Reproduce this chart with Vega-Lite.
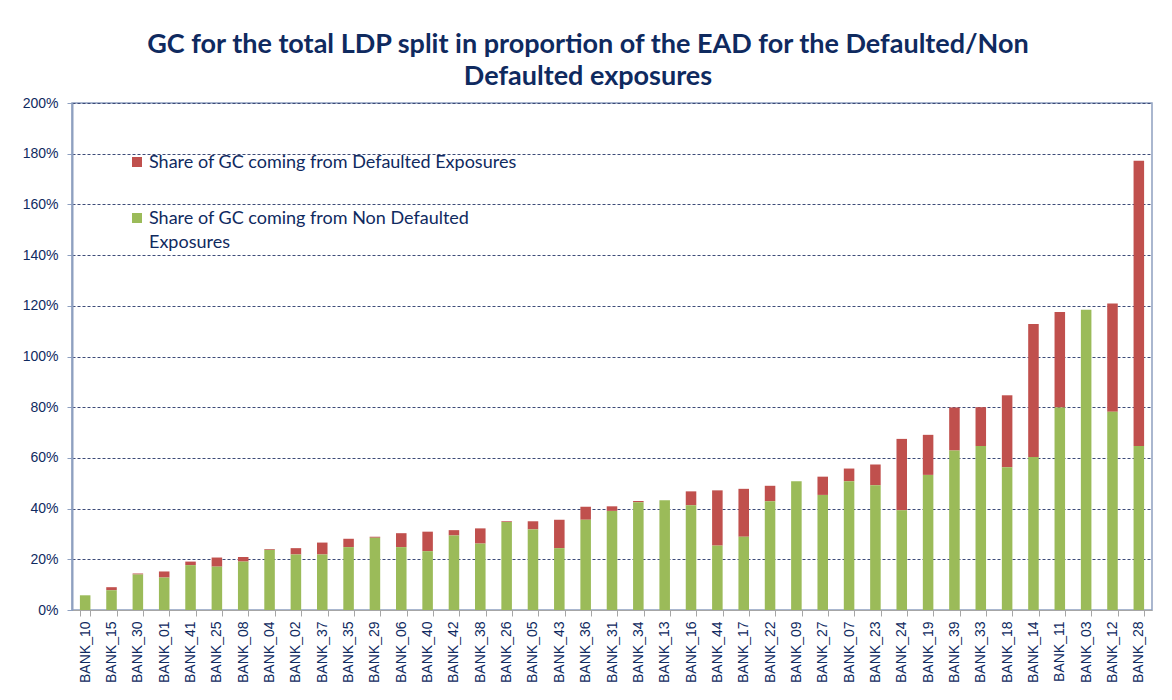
{
  "$schema": "https://vega.github.io/schema/vega-lite/v6.json",
  "width": 1080,
  "height": 507,
  "autosize": {"type": "none"},
  "padding": {"left": 72, "top": 103, "right": 20, "bottom": 90},
  "background": "white",
  "title": {
    "text": ["GC for the total LDP split in proportion of the EAD for the Defaulted/Non", "Defaulted exposures"],
    "anchor": "middle",
    "dx": -24,
    "offset": 5,
    "font": "Lato",
    "fontSize": 27,
    "fontWeight": "bold",
    "color": "#0F2A5F",
    "lineHeight": 32
  },
  "data": {
    "values": [
      {"bank": "BANK_10", "Non Defaulted": 0.058, "Defaulted": 0.0},
      {"bank": "BANK_15", "Non Defaulted": 0.078, "Defaulted": 0.012},
      {"bank": "BANK_30", "Non Defaulted": 0.140, "Defaulted": 0.004},
      {"bank": "BANK_01", "Non Defaulted": 0.128, "Defaulted": 0.024},
      {"bank": "BANK_41", "Non Defaulted": 0.177, "Defaulted": 0.014},
      {"bank": "BANK_25", "Non Defaulted": 0.171, "Defaulted": 0.036},
      {"bank": "BANK_08", "Non Defaulted": 0.191, "Defaulted": 0.018},
      {"bank": "BANK_04", "Non Defaulted": 0.237, "Defaulted": 0.003},
      {"bank": "BANK_02", "Non Defaulted": 0.219, "Defaulted": 0.025},
      {"bank": "BANK_37", "Non Defaulted": 0.219, "Defaulted": 0.047},
      {"bank": "BANK_35", "Non Defaulted": 0.248, "Defaulted": 0.033},
      {"bank": "BANK_29", "Non Defaulted": 0.285, "Defaulted": 0.004},
      {"bank": "BANK_06", "Non Defaulted": 0.248, "Defaulted": 0.055},
      {"bank": "BANK_40", "Non Defaulted": 0.232, "Defaulted": 0.077},
      {"bank": "BANK_42", "Non Defaulted": 0.294, "Defaulted": 0.021},
      {"bank": "BANK_38", "Non Defaulted": 0.262, "Defaulted": 0.060},
      {"bank": "BANK_26", "Non Defaulted": 0.347, "Defaulted": 0.003},
      {"bank": "BANK_05", "Non Defaulted": 0.318, "Defaulted": 0.032},
      {"bank": "BANK_43", "Non Defaulted": 0.244, "Defaulted": 0.112},
      {"bank": "BANK_36", "Non Defaulted": 0.356, "Defaulted": 0.051},
      {"bank": "BANK_31", "Non Defaulted": 0.391, "Defaulted": 0.018},
      {"bank": "BANK_34", "Non Defaulted": 0.425, "Defaulted": 0.005},
      {"bank": "BANK_13", "Non Defaulted": 0.433, "Defaulted": 0.0},
      {"bank": "BANK_16", "Non Defaulted": 0.413, "Defaulted": 0.055},
      {"bank": "BANK_44", "Non Defaulted": 0.254, "Defaulted": 0.218},
      {"bank": "BANK_17", "Non Defaulted": 0.289, "Defaulted": 0.189},
      {"bank": "BANK_22", "Non Defaulted": 0.429, "Defaulted": 0.061},
      {"bank": "BANK_09", "Non Defaulted": 0.508, "Defaulted": 0.0},
      {"bank": "BANK_27", "Non Defaulted": 0.454, "Defaulted": 0.072},
      {"bank": "BANK_07", "Non Defaulted": 0.508, "Defaulted": 0.050},
      {"bank": "BANK_23", "Non Defaulted": 0.492, "Defaulted": 0.082},
      {"bank": "BANK_24", "Non Defaulted": 0.393, "Defaulted": 0.282},
      {"bank": "BANK_19", "Non Defaulted": 0.533, "Defaulted": 0.158},
      {"bank": "BANK_39", "Non Defaulted": 0.629, "Defaulted": 0.170},
      {"bank": "BANK_33", "Non Defaulted": 0.647, "Defaulted": 0.153},
      {"bank": "BANK_18", "Non Defaulted": 0.563, "Defaulted": 0.284},
      {"bank": "BANK_14", "Non Defaulted": 0.604, "Defaulted": 0.524},
      {"bank": "BANK_11", "Non Defaulted": 0.799, "Defaulted": 0.377},
      {"bank": "BANK_03", "Non Defaulted": 1.184, "Defaulted": 0.0},
      {"bank": "BANK_12", "Non Defaulted": 0.782, "Defaulted": 0.427},
      {"bank": "BANK_28", "Non Defaulted": 0.647, "Defaulted": 1.125}
    ]
  },
  "transform": [
    {"fold": ["Defaulted", "Non Defaulted"], "as": ["series", "share"]}
  ],
  "mark": {"type": "bar"},
  "encoding": {
    "x": {
      "field": "bank",
      "type": "nominal",
      "sort": null,
      "scale": {"paddingInner": 0.6, "paddingOuter": 0.3},
      "axis": {
        "title": null,
        "labelAngle": 270,
        "labelAlign": "right",
        "labelBaseline": "middle",
        "labelFont": "Liberation Sans",
        "labelFontSize": 14,
        "labelColor": "#0F2A5F",
        "labelPadding": 5,
        "tickBand": "extent",
        "tickColor": "#A6A6A6",
        "tickSize": 6,
        "domain": true,
        "domainColor": "#A6A6A6",
        "grid": false
      }
    },
    "y": {
      "field": "share",
      "type": "quantitative",
      "stack": "zero",
      "scale": {"domain": [0, 2], "nice": false},
      "axis": {
        "title": null,
        "values": [0, 0.2, 0.4, 0.6, 0.8, 1.0, 1.2, 1.4, 1.6, 1.8, 2.0],
        "format": ".0%",
        "labelFont": "Liberation Sans",
        "labelFontSize": 14,
        "labelColor": "#0F2A5F",
        "labelPadding": 9,
        "tickColor": "#8EA0C0",
        "tickSize": 5,
        "domainColor": "#8EA0C0",
        "domainWidth": 2,
        "grid": true,
        "gridColor": "#3D4B78",
        "gridDash": [3, 2],
        "gridWidth": 1
      }
    },
    "color": {
      "field": "series",
      "type": "nominal",
      "scale": {"domain": ["Defaulted", "Non Defaulted"], "range": ["#C0504D", "#9BBB59"]},
      "legend": {
        "title": null,
        "orient": "none",
        "legendX": 56,
        "legendY": 50,
        "symbolType": "square",
        "symbolSize": 100,
        "symbolStrokeWidth": 0,
        "labelFont": "Lato",
        "labelFontSize": 18,
        "labelColor": "#0F2A5F",
        "labelBaseline": "alphabetic",
        "labelOffset": 3,
        "labelLimit": 600,
        "rowPadding": 37,
        "labelExpr": "datum.label == 'Defaulted' ? 'Share of GC coming from Defaulted Exposures' : ['Share of GC coming from Non Defaulted', 'Exposures']",
        "encode": {
          "labels": {"update": {"dy": {"value": 6}, "lineHeight": {"value": 24}}}
        }
      }
    },
    "order": {"field": "series", "sort": "descending"}
  },
  "config": {
    "view": {"stroke": "#8EA0C0", "strokeWidth": 1.5}
  }
}
